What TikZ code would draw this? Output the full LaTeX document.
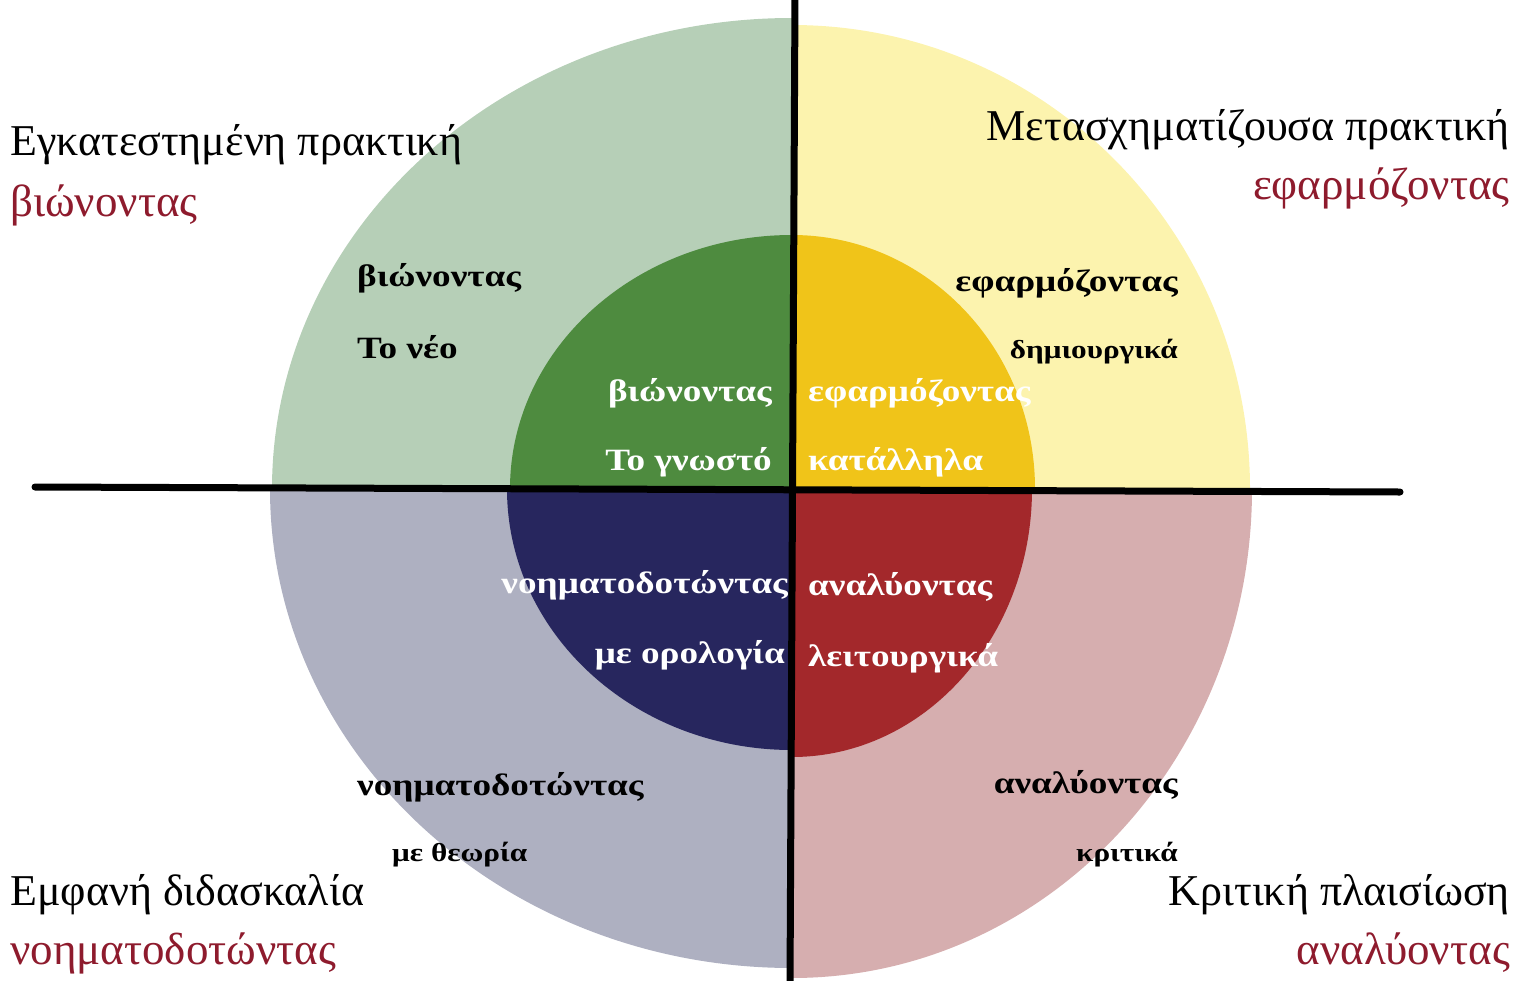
\documentclass[tikz,border=0pt]{standalone}
\usepackage{fontspec}
\setmainfont{Liberation Serif}
\newfontfamily\widelabel[FakeStretch=1.2]{Liberation Serif}

\definecolor{outergreen}{HTML}{B6CFB7}
\definecolor{innergreen}{HTML}{4E8B3F}
\definecolor{outeryellow}{HTML}{FCF3AE}
\definecolor{inneryellow}{HTML}{F0C419}
\definecolor{outergray}{HTML}{AEB0C1}
\definecolor{innernavy}{HTML}{27265E}
\definecolor{outerpink}{HTML}{D6AEAF}
\definecolor{innerred}{HTML}{A3282B}
\definecolor{titlered}{HTML}{8E1B2D}

\tikzset{
  title/.style={inner sep=0pt, font=\fontsize{44}{48}\selectfont},
  subtitle/.style={inner sep=0pt, text=titlered, font=\fontsize{45}{48}\selectfont},
  label/.style={inner sep=0pt, font=\widelabel\bfseries\fontsize{31}{34}\selectfont},
  smalllabel/.style={inner sep=0pt, font=\widelabel\bfseries\fontsize{26}{28}\selectfont},
  brush/.style={line width=7pt, line cap=round}
}

\begin{document}
\begin{tikzpicture}[x=1pt, y=-1pt]
        \useasboundingbox (0,0) rectangle (1517,980);
        \coordinate (C) at (792,489);

        %Outer quadrants
        \fill [outergreen] (C) -- ++(-520,0) arc [start angle=180, end angle=270, x radius=520, y radius=471] -- cycle;
        \fill [outeryellow] (C) -- ++(0,-464) arc [start angle=270, end angle=360, x radius=458, y radius=464] -- cycle;
        \fill [outergray] (C) -- ++(-522,0) arc [start angle=180, end angle=90, x radius=522, y radius=479] -- cycle;
        \fill [outerpink] (C) -- ++(460,0) arc [start angle=0, end angle=90, x radius=460, y radius=489] -- cycle;

        %Inner quadrants
        \fill [innergreen] (C) -- ++(-282,0) arc [start angle=180, end angle=270, x radius=282, y radius=254] -- cycle;
        \fill [inneryellow] (C) -- ++(0,-254) arc [start angle=270, end angle=360, x radius=243, y radius=254] -- cycle;
        \fill [innernavy] (C) -- ++(-285,0) arc [start angle=180, end angle=90, x radius=285, y radius=261] -- cycle;
        \fill [innerred] (C) -- ++(240,0) arc [start angle=0, end angle=90, x radius=240, y radius=268] -- cycle;

        %Cross
        \coordinate (west) at (35,487);
        \coordinate (east) at (1400,492);
        \coordinate (north) at (795,-5);
        \coordinate (south) at (790,985);
        \draw [brush] (west) -- (east);
        \draw [brush] (north) -- (south);

        %Corner titles
        \node [title, anchor=west] (tl) at (10,145) {Εγκατεστημένη πρακτική};
        \node [subtitle, anchor=west] (tlsub) at (10,205) {βιώνοντας};
        \node [title, anchor=east] (tr) at (1510,130) {Μετασχηματίζουσα πρακτική};
        \node [subtitle, anchor=east] (trsub) at (1510,188) {εφαρμόζοντας};
        \node [title, anchor=west] (bl) at (10,895) {Εμφανή διδασκαλία};
        \node [subtitle, anchor=west] (blsub) at (10,953) {νοηματοδοτώντας};
        \node [title, anchor=east] (br) at (1510,895) {Κριτική πλαισίωση};
        \node [subtitle, anchor=east] (brsub) at (1510,953) {αναλύοντας};

        %Outer ring labels
        \node [label, anchor=west] (gout) at (357,278) {βιώνοντας};
        \node [label, anchor=west] (goutb) at (357,347) {Το νέο};
        \node [label, anchor=east] (yout) at (1178,283) {εφαρμόζοντας};
        \node [smalllabel, anchor=east] (youtb) at (1178,352) {δημιουργικά};
        \node [label, anchor=west] (nout) at (357,787) {νοηματοδοτώντας};
        \node [smalllabel, anchor=west] (noutb) at (392,855) {με θεωρία};
        \node [label, anchor=east] (rout) at (1178,785) {αναλύοντας};
        \node [smalllabel, anchor=east] (routb) at (1178,855) {κριτικά};

        %Inner circle labels
        \node [label, text=white, anchor=east] (gin) at (772,393) {βιώνοντας};
        \node [label, text=white, anchor=east] (ginb) at (772,462) {Το γνωστό};
        \node [label, text=white, anchor=west] (yin) at (808,393) {εφαρμόζοντας};
        \node [label, text=white, anchor=west] (yinb) at (808,462) {κατάλληλα};
        \node [label, text=white, anchor=east] (nin) at (788,585) {νοηματοδοτώντας};
        \node [label, text=white, anchor=east] (ninb) at (785,655) {με ορολογία};
        \node [label, text=white, anchor=west] (rin) at (808,587) {αναλύοντας};
        \node [label, text=white, anchor=west] (rinb) at (808,658) {λειτουργικά};

\end{tikzpicture}
\end{document}
